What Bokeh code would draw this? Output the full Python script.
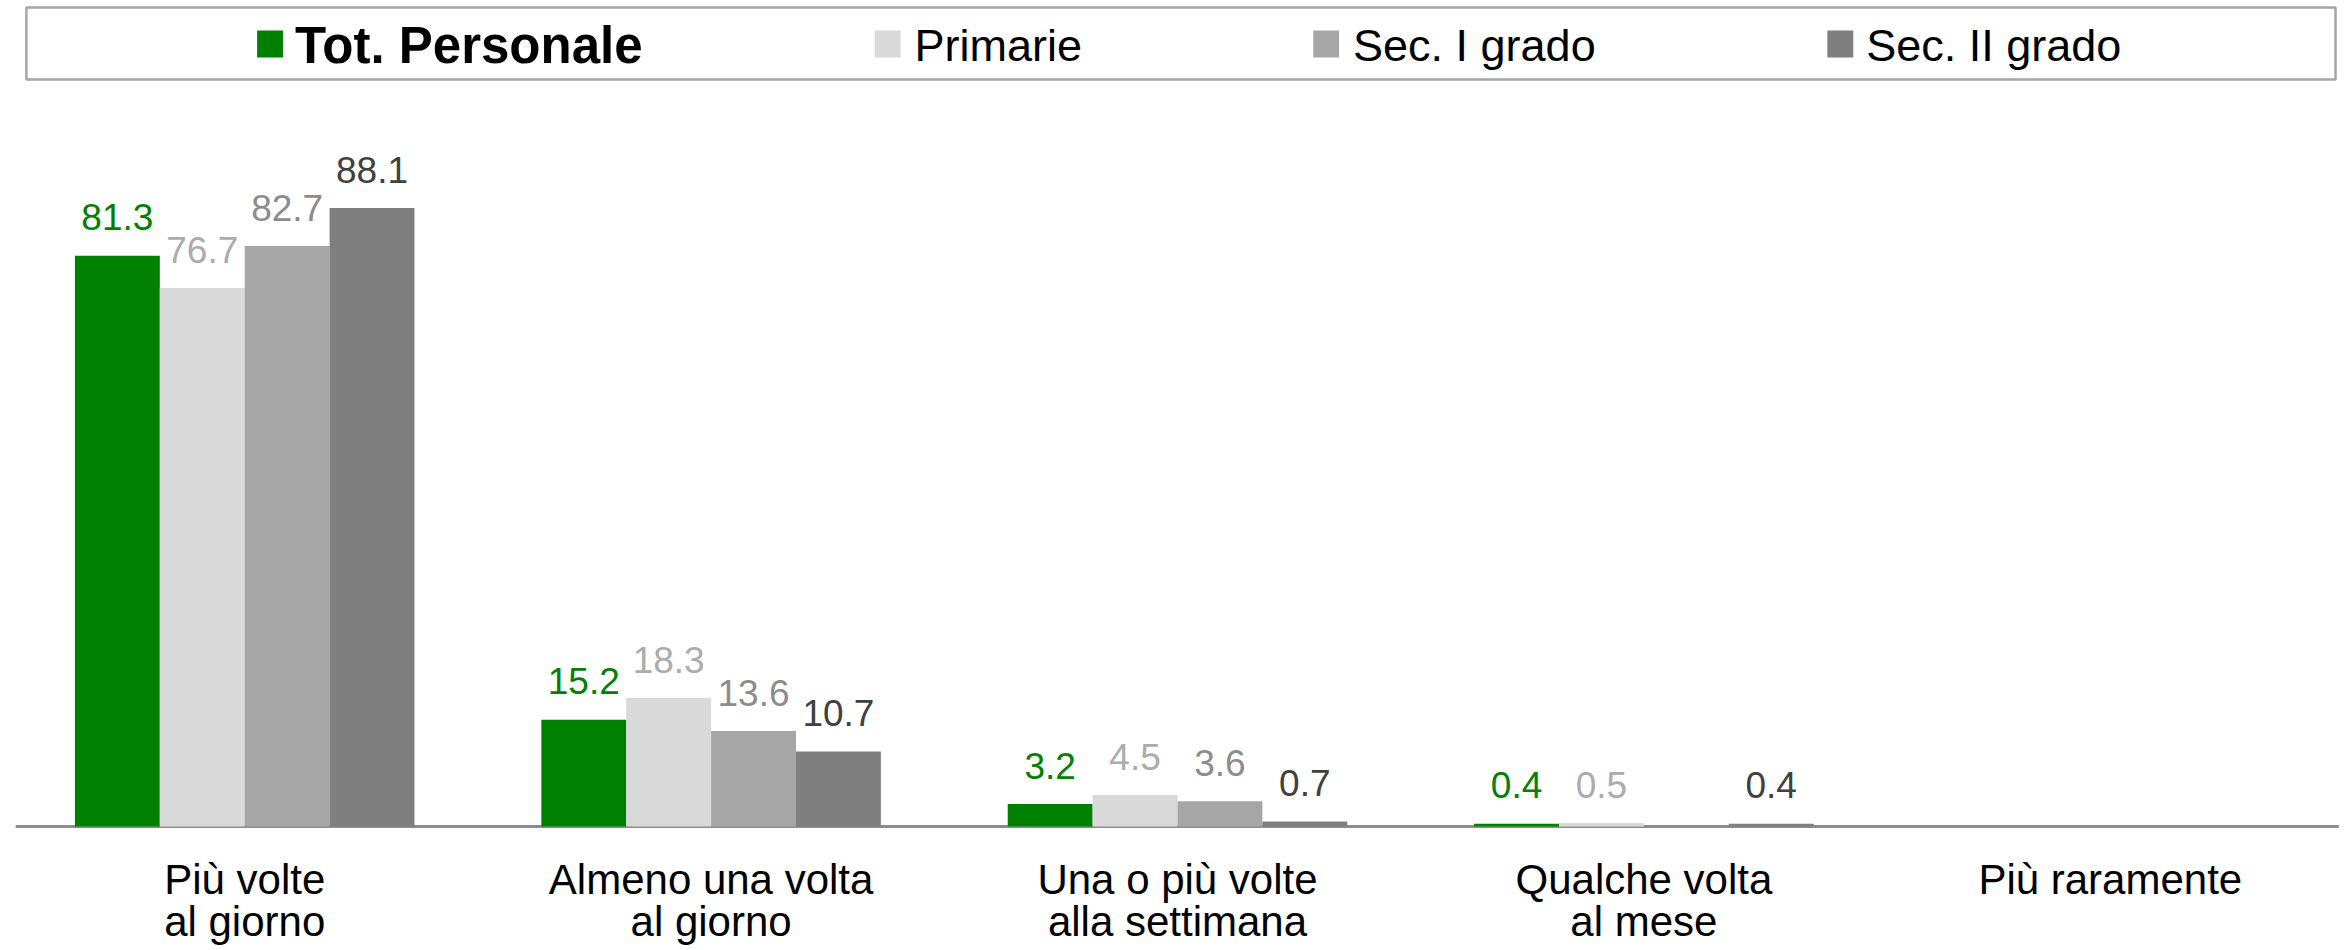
from bokeh.plotting import figure
from bokeh.models import ColumnDataSource, FactorRange, Range1d
from bokeh.transform import dodge
from bokeh.layouts import column
from bokeh.core.properties import value
from bokeh.embed import file_html
from bokeh.resources import INLINE

categories = ["Più volte\nal giorno", "Almeno una volta\nal giorno", "Una o più volte\nalla settimana",
              "Qualche volta\nal mese", "Più raramente"]
series_names = ["Tot. Personale", "Primarie", "Sec. I grado", "Sec. II grado"]
tot_personale = [81.3, 15.2, 3.2, 0.4, None]
primarie = [76.7, 18.3, 4.5, 0.5, None]
sec_i_grado = [82.7, 13.6, 3.6, None, None]
sec_ii_grado = [88.1, 10.7, 0.7, 0.4, None]

bar_colors = ["#008000", "#d9d9d9", "#a6a6a6", "#7f7f7f"]
label_colors = ["#008000", "#acacac", "#8c8c8c", "#404040"]
FONT = "Liberation Sans"

W = 2345
LEG_H = 90
MAIN_H = 858
BASE = 736          # baseline position (px from top of main figure)
PX_PER_UNIT = 7.02
SHIFT = 0.36        # empirical correction of the rendered text baseline (in em)
VAL_FS = 37

# ---------------- legend strip ----------------
leg = figure(width=W, height=LEG_H, x_range=Range1d(0, W), y_range=Range1d(0, LEG_H),
             output_backend="svg", toolbar_location=None,
             min_border_left=0, min_border_right=0, min_border_top=0, min_border_bottom=0)
leg.axis.visible = False
leg.grid.visible = False
leg.outline_line_color = None
leg.quad(left=[15], right=[2337], bottom=[LEG_H - 79], top=[LEG_H - 7], fill_color=None,
         line_color="#a6a6a6", line_width=2.5)
sq_left = [247, 868, 1309, 1826]
txt_x = [285, 908, 1349, 1865]
for i, name in enumerate(series_names):
    leg.quad(left=[sq_left[i]], right=[sq_left[i] + 26], bottom=[LEG_H - 57], top=[LEG_H - 30],
             fill_color=bar_colors[i], line_color=None)
    bold = i == 0
    fs = 51 if bold else 45
    base = 63 if bold else 61
    leg.text(x=[txt_x[i]], y=[LEG_H - base + SHIFT * fs], text=[name],
             text_font=value(FONT), text_font_size=f"{fs}px",
             text_font_style="bold" if bold else "normal",
             text_color="black", text_baseline="alphabetic", text_align="left")

# ---------------- main chart ----------------
p = figure(width=W, height=MAIN_H, x_range=FactorRange(*categories, range_padding=0),
           y_range=Range1d(-(MAIN_H - BASE) / PX_PER_UNIT, BASE / PX_PER_UNIT),
           output_backend="svg", toolbar_location=None,
           min_border_left=11, min_border_right=2, min_border_top=0, min_border_bottom=0)
p.outline_line_color = None
p.grid.visible = False
p.axis.visible = False

# baseline (category axis line)
axsrc = ColumnDataSource(dict(c0=[categories[0]], c1=[categories[-1]], y=[0]))
p.segment(x0=dodge("c0", -0.491, range=p.x_range), x1=dodge("c1", 0.49, range=p.x_range),
          y0="y", y1="y", source=axsrc, line_color="#8c8c8c", line_width=3)

bw = 0.182
offsets = [-1.5 * bw, -0.5 * bw, 0.5 * bw, 1.5 * bw]
all_series = [tot_personale, primarie, sec_i_grado, sec_ii_grado]
for i, vals in enumerate(all_series):
    cats = [c for c, v in zip(categories, vals) if v is not None]
    vs = [v for v in vals if v is not None]
    src = ColumnDataSource(dict(cat=cats, val=vs, lab=[f"{v:.1f}" for v in vs]))
    p.vbar(x=dodge("cat", offsets[i], range=p.x_range), top="val", width=bw, bottom=0,
           source=src, fill_color=bar_colors[i], line_color=None)
    p.text(x=dodge("cat", offsets[i], range=p.x_range), y="val", text="lab", source=src,
           y_offset=-25 - SHIFT * VAL_FS, text_font=value(FONT), text_font_size=f"{VAL_FS}px",
           text_color=label_colors[i], text_align="center", text_baseline="alphabetic")

# category labels (two lines) under the baseline
line1 = [c.split("\n")[0] for c in categories]
line2 = [c.split("\n")[1] if "\n" in c else "" for c in categories]
csrc = ColumnDataSource(dict(cat=categories, zero=[0] * len(categories), l1=line1, l2=line2))
p.text(x="cat", y="zero", text="l1", source=csrc, y_offset=68 - SHIFT * 42, text_font=value(FONT),
       text_font_size="42px", text_color="black", text_align="center", text_baseline="alphabetic")
p.text(x="cat", y="zero", text="l2", source=csrc, y_offset=110 - SHIFT * 42, text_font=value(FONT),
       text_font_size="42px", text_color="black", text_align="center", text_baseline="alphabetic")

layout = column(leg, p, spacing=0)
open("out.html", "w").write(file_html(layout, INLINE))
